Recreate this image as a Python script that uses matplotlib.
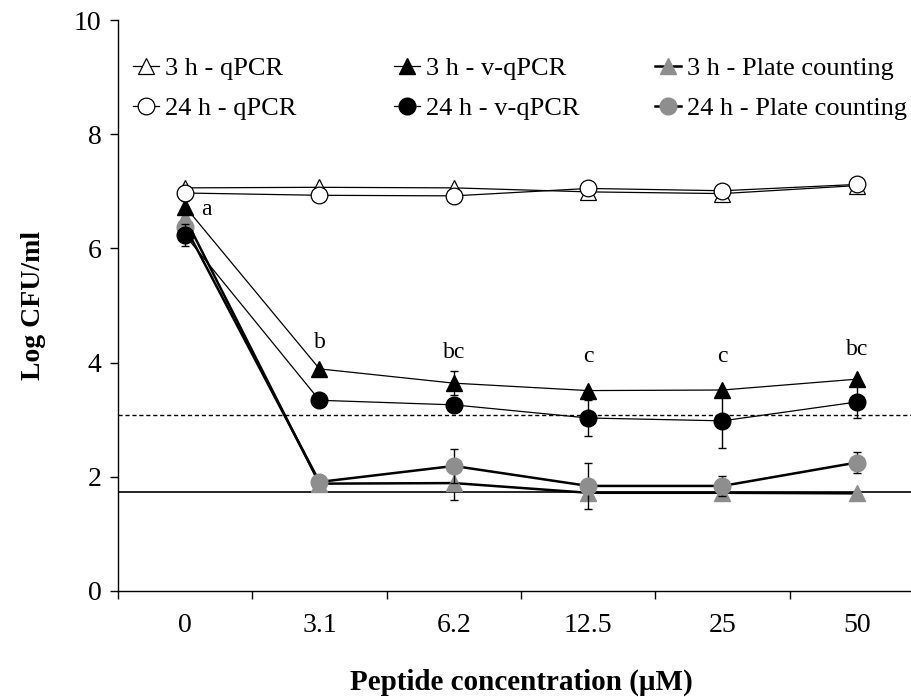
import numpy as np
import matplotlib
matplotlib.use("Agg")
import matplotlib.pyplot as plt
from matplotlib.ticker import FixedLocator

plt.rcParams['font.family'] = ['Liberation Serif', 'DejaVu Serif']

conc = ["0", "3.1", "6.2", "12.5", "25", "50"]

qpcr_3h = [7.06, 7.07, 7.06, 6.99, 6.96, 7.10]
qpcr_24h = [6.97, 6.93, 6.92, 7.05, 7.01, 7.12]
vqpcr_3h = [6.73, 3.89, 3.64, 3.51, 3.52, 3.71]
vqpcr_3h_err = [0.10, 0.0, 0.21, 0.0, 0.0, 0.0]
vqpcr_24h = [6.23, 3.34, 3.26, 3.03, 2.98, 3.31]
vqpcr_24h_err = [0.19, 0.05, 0.08, 0.31, 0.47, 0.28]
plate_3h = [6.53, 1.88, 1.89, 1.72, 1.72, 1.71]
plate_3h_err = [0.0, 0.0, 0.30, 0.0, 0.0, 0.0]
plate_24h = [6.38, 1.91, 2.19, 1.84, 1.84, 2.25]
plate_24h_err = [0.0, 0.0, 0.29, 0.41, 0.18, 0.18]

letters = ["a", "b", "bc", "c", "c", "bc"]
letter_x = [0.66, 1.5, 2.5, 3.5, 4.5, 5.5]
letter_y = [6.58, 4.26, 4.08, 4.01, 4.01, 4.13]

detect_vqpcr = 3.08
detect_plate = 1.73

gray = "#8e8e8e"
x = np.arange(len(conc)) + 0.5

fig = plt.figure(figsize=(9.12, 6.97), dpi=100)
ax = fig.add_axes([118 / 912, 106 / 697, 806 / 912, 571 / 697])

ax.axhline(detect_vqpcr, color="black", lw=1, ls=(0, (3, 2)))
ax.axhline(detect_plate, color="black", lw=1.2)

ms = 12
ekw = dict(ecolor="black", elinewidth=1, capsize=3, capthick=1)

ax.errorbar(x, plate_3h, yerr=plate_3h_err, fmt="none", **ekw)
h5, = ax.plot(x, plate_3h, "-^", color="black", lw=1.8, mfc=gray, mec=gray, ms=ms, label="3 h - Plate counting")
ax.errorbar(x, plate_24h, yerr=plate_24h_err, fmt="none", **ekw)
h6, = ax.plot(x, plate_24h, "-o", color="black", lw=1.8, mfc=gray, mec=gray, ms=ms, label="24 h - Plate counting")

ax.errorbar(x, vqpcr_3h, yerr=vqpcr_3h_err, fmt="none", **ekw)
h3, = ax.plot(x, vqpcr_3h, "-^", color="black", lw=0.9, mfc="black", mec="black", ms=ms, label="3 h - v-qPCR")
ax.errorbar(x, vqpcr_24h, yerr=vqpcr_24h_err, fmt="none", **ekw)
h4, = ax.plot(x, vqpcr_24h, "-o", color="black", lw=0.9, mfc="black", mec="black", ms=ms, label="24 h - v-qPCR")

h1, = ax.plot(x, qpcr_3h, "-^", color="black", lw=0.9, mfc="white", mec="black", mew=0.9, ms=ms, label="3 h - qPCR")
h2, = ax.plot(x, qpcr_24h, "-o", color="black", lw=0.9, mfc="white", mec="black", mew=0.9, ms=ms, label="24 h - qPCR")

for t, lx, ly in zip(letters, letter_x, letter_y):
    ax.text(lx, ly, t, ha="center", va="baseline", fontsize=17)

ax.set_xlim(0, 6)
ax.set_ylim(0, 10)
ax.set_yticks([0, 2, 4, 6, 8, 10])
ax.set_xticks(x)
ax.set_xticklabels(conc)
ax.xaxis.set_minor_locator(FixedLocator(np.arange(0, 7)))
ax.tick_params(axis="x", which="major", length=0, labelsize=20, pad=16)
ax.tick_params(axis="x", which="minor", length=6, direction="out", width=1)
ax.tick_params(axis="y", length=6, direction="out", labelsize=20, width=1, pad=6)

for s in ["top", "right"]:
    ax.spines[s].set_visible(False)
ax.spines["left"].set_linewidth(1)
ax.spines["bottom"].set_linewidth(1)

ax.set_ylabel("Log CFU/ml", fontsize=20, fontweight="bold", labelpad=20)
ax.set_xlabel("Peptide concentration (\u03bcM)", fontsize=21, fontweight="bold", labelpad=22)

# three legend columns, evenly spaced like the original
cols = [(h1, h2), (h3, h4), (h5, h6)]
col_x = [133, 394, 655]
for hc, cx in zip(cols, col_x):
    fig.legend(handles=list(hc), loc="upper left",
               bbox_to_anchor=(cx / 912, 1 - 57 / 697),
               frameon=False, fontsize=19, handlelength=1.0,
               handletextpad=0.2, labelspacing=0.6,
               borderpad=0, borderaxespad=0)

fig.savefig("out.png", dpi=100)
